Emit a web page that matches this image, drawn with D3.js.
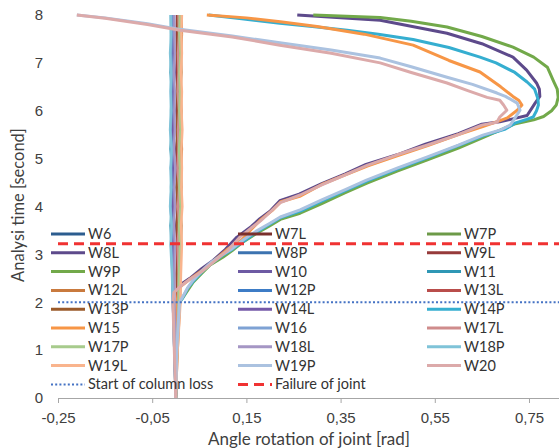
<!DOCTYPE html>
<html>
<head>
<meta charset="utf-8">
<script src="https://cdn.jsdelivr.net/npm/d3@7"></script>
<style>
  body { margin: 0; background: #fff; }
  svg { display: block; font-family: Lato, "Open Sans", sans-serif; }
  .axis text { fill: #404040; font-size: 15px; }
  .axis path, .axis line { stroke: #a6a6a6; }
  .legend text { fill: #333; font-size: 14.5px; }
  .axis-title { fill: #404040; font-size: 17px; }
</style>
</head>
<body>
<svg id="chart" width="559" height="448"></svg>
<script>
/* joint rotation vs analysis time, 24 joints + two marker lines */

const seriesNames = ["W6","W7L","W7P","W8L","W8P","W9L","W9P","W10","W11","W12L","W12P","W13L",
                     "W13P","W14L","W14P","W15","W16","W17L","W17P","W18L","W18P","W19L","W19P","W20"];
const seriesColors = ["#2c5d8f","#7a2f2c","#6c9a48","#5d4a8b","#3c73b0","#963a3a","#72a94a","#6d5aa3",
                      "#2f97b5","#c97a3e","#3d7cc6","#b94d4b","#9a5a2a","#7559a8","#35aed0","#f79646",
                      "#7ea2d4","#cf8c8c","#a7cb8c","#a596c4","#7fc3d8","#f9b48d","#abc2e0","#dcaaaa"];

const xTicks = [-0.25, -0.05, 0.15, 0.35, 0.55, 0.75];
const yTicks = [0, 1, 2, 3, 4, 5, 6, 7, 8];

// joints that stay near zero: x [rad] sampled at these times [s]
const bundleTimes = [0, 1, 2, 2.6, 3.2, 3.6, 4.0, 4.4, 4.8, 5.2, 5.6, 6.0, 6.4, 6.8, 7.2, 7.6, 8.0];
const bundleX = {
  W6:   [0,-0.003,-0.005,-0.006,-0.007,-0.009,-0.006,-0.008,-0.005,-0.009,-0.007,-0.006,-0.008,-0.006,-0.007,-0.008,-0.007],
  W7L:  [0,0.002,0.004,0.003,0.005,0.002,0.006,0.003,0.005,0.002,0.004,0.006,0.003,0.005,0.003,0.004,0.004],
  W7P:  [0,0.003,0.007,0.008,0.008,0.009,0.007,0.009,0.008,0.010,0.008,0.009,0.007,0.009,0.008,0.009,0.008],
  W8P:  [0,-0.003,-0.006,-0.007,-0.008,-0.006,-0.009,-0.007,-0.010,-0.007,-0.009,-0.008,-0.006,-0.009,-0.007,-0.008,-0.008],
  W9L:  [0,0.001,0.003,0.002,0.004,0.001,0.005,0.002,0.004,0.001,0.005,0.002,0.004,0.002,0.003,0.002,0.003],
  W10:  [0,-0.002,-0.004,-0.005,-0.004,-0.006,-0.003,-0.005,-0.002,-0.006,-0.004,-0.003,-0.005,-0.003,-0.004,-0.005,-0.004],
  W11:  [0,-0.002,-0.005,-0.006,-0.009,-0.011,-0.008,-0.010,-0.008,-0.011,-0.009,-0.010,-0.008,-0.011,-0.009,-0.010,-0.010],
  W12L: [0,0.004,0.009,0.010,0.011,0.012,0.010,0.012,0.011,0.013,0.011,0.012,0.010,0.012,0.011,0.013,0.012],
  W12P: [0,-0.002,-0.005,-0.006,-0.006,-0.008,-0.005,-0.007,-0.006,-0.008,-0.005,-0.007,-0.006,-0.008,-0.006,-0.007,-0.006],
  W13L: [0,0.002,0.004,0.005,0.003,0.006,0.004,0.006,0.003,0.005,0.003,0.006,0.004,0.005,0.004,0.006,0.005],
  W13P: [0,0.002,0.005,0.004,0.006,0.003,0.005,0.002,0.006,0.004,0.002,0.005,0.003,0.006,0.004,0.005,0.005],
  W14L: [0,-0.002,-0.004,-0.004,-0.005,-0.003,-0.006,-0.004,-0.005,-0.003,-0.006,-0.004,-0.005,-0.003,-0.005,-0.004,-0.004],
  W16:  [0,-0.003,-0.006,-0.007,-0.010,-0.008,-0.011,-0.009,-0.010,-0.008,-0.011,-0.009,-0.010,-0.008,-0.010,-0.009,-0.009],
  W17L: [0,0.002,0.005,0.006,0.004,0.007,0.005,0.007,0.004,0.006,0.005,0.007,0.004,0.006,0.005,0.007,0.006],
  W17P: [0,0.003,0.006,0.007,0.009,0.007,0.010,0.008,0.009,0.007,0.010,0.008,0.009,0.008,0.010,0.008,0.009],
  W18L: [0,-0.001,-0.003,-0.003,-0.002,-0.004,-0.002,-0.003,-0.001,-0.004,-0.002,-0.003,-0.002,-0.004,-0.002,-0.003,-0.003],
  W18P: [0,-0.003,-0.006,-0.008,-0.011,-0.009,-0.012,-0.010,-0.011,-0.009,-0.012,-0.010,-0.011,-0.010,-0.012,-0.010,-0.011],
  W19L: [0,0.004,0.010,0.011,0.013,0.011,0.014,0.012,0.013,0.012,0.014,0.012,0.013,0.011,0.013,0.012,0.013]
};

// joints that fail: [rotation rad, time s]
const curveW8L = [[0,0],[0.002,1],[0.004,2],[0.006,2.3],[0.012,2.38],[0.03,2.5],[0.055,2.7],[0.08,2.88],[0.105,3.1],
  [0.13,3.36],[0.16,3.58],[0.178,3.74],[0.2,3.9],[0.221,4.12],[0.262,4.26],[0.31,4.48],[0.36,4.68],[0.404,4.88],
  [0.47,5.08],[0.53,5.3],[0.6,5.52],[0.65,5.72],[0.688,5.77],[0.72,5.84],[0.746,5.9],[0.763,6.16],[0.773,6.3],
  [0.772,6.45],[0.766,6.58],[0.745,6.85],[0.716,7.12],[0.65,7.4],[0.576,7.62],[0.434,7.89],[0.258,8.0]];
const curveW9P = [[0,0],[0.002,1],[0.008,2],[0.014,2.08],[0.026,2.26],[0.037,2.42],[0.055,2.6],[0.073,2.78],[0.1,2.94],
  [0.12,3.08],[0.143,3.26],[0.17,3.43],[0.2,3.6],[0.222,3.73],[0.264,3.86],[0.31,4.06],[0.36,4.29],[0.406,4.49],
  [0.47,4.74],[0.533,4.97],[0.6,5.22],[0.652,5.44],[0.69,5.6],[0.719,5.72],[0.76,5.81],[0.781,5.88],[0.798,6.0],
  [0.808,6.12],[0.812,6.28],[0.81,6.45],[0.803,6.6],[0.789,6.91],[0.76,7.12],[0.716,7.33],[0.65,7.55],[0.576,7.75],
  [0.5,7.87],[0.434,7.95],[0.292,8.0]];
const curveW14P = [[0,0],[0.002,1],[0.008,2],[0.014,2.08],[0.026,2.3],[0.038,2.45],[0.056,2.64],[0.074,2.8],[0.1,2.98],
  [0.122,3.12],[0.145,3.28],[0.172,3.47],[0.201,3.64],[0.223,3.77],[0.266,3.91],[0.312,4.12],[0.362,4.34],[0.408,4.54],
  [0.472,4.79],[0.535,5.02],[0.6,5.27],[0.654,5.48],[0.7,5.62],[0.72,5.74],[0.745,5.82],[0.759,5.87],[0.766,6.0],
  [0.77,6.12],[0.769,6.25],[0.762,6.45],[0.746,6.6],[0.72,6.8],[0.68,7.0],[0.646,7.12],[0.58,7.32],[0.504,7.49],
  [0.43,7.6],[0.364,7.68],[0.29,7.76],[0.221,7.83],[0.14,7.92],[0.07,8.0]];
const curveW15 = [[0,0],[0.001,1],[0.003,2],[0.006,2.28],[0.014,2.36],[0.035,2.52],[0.058,2.68],[0.085,2.9],[0.109,3.1],
  [0.14,3.3],[0.16,3.52],[0.18,3.72],[0.205,3.92],[0.223,4.1],[0.265,4.22],[0.31,4.46],[0.36,4.66],[0.408,4.85],
  [0.47,5.06],[0.535,5.27],[0.6,5.5],[0.655,5.68],[0.69,5.8],[0.704,5.85],[0.725,6.01],[0.735,6.12],[0.728,6.22],
  [0.716,6.3],[0.69,6.5],[0.646,6.81],[0.58,7.05],[0.504,7.37],[0.4,7.6],[0.3,7.76],[0.222,7.86],[0.15,7.94],[0.066,8.0]];
const curveW19P = [[0,0],[0.002,1],[0.008,2],[0.014,2.1],[0.025,2.3],[0.037,2.46],[0.055,2.65],[0.073,2.82],[0.1,3.0],
  [0.12,3.12],[0.143,3.3],[0.17,3.48],[0.2,3.65],[0.222,3.78],[0.264,3.93],[0.31,4.14],[0.36,4.35],[0.405,4.55],
  [0.47,4.8],[0.533,5.03],[0.6,5.28],[0.652,5.49],[0.69,5.6],[0.71,5.7],[0.717,5.8],[0.731,6.01],[0.725,6.16],
  [0.7,6.3],[0.682,6.37],[0.63,6.55],[0.576,6.7],[0.5,6.92],[0.434,7.1],[0.33,7.27],[0.221,7.42],[0.12,7.56],
  [0.009,7.7],[-0.06,7.82],[-0.15,7.94],[-0.21,8.0]];
const curveW20 = [[0,0],[-0.003,1],[-0.006,2],[-0.004,2.2],[0.008,2.32],[0.03,2.48],[0.058,2.66],[0.085,2.88],[0.11,3.08],
  [0.136,3.36],[0.16,3.55],[0.18,3.7],[0.2,3.88],[0.222,4.08],[0.264,4.24],[0.31,4.45],[0.36,4.66],[0.406,4.86],
  [0.47,5.08],[0.533,5.28],[0.6,5.5],[0.65,5.7],[0.682,5.76],[0.688,5.87],[0.703,6.01],[0.696,6.12],[0.688,6.22],
  [0.661,6.28],[0.62,6.42],[0.576,6.58],[0.5,6.8],[0.434,7.0],[0.33,7.2],[0.221,7.37],[0.12,7.54],[0.009,7.68],
  [-0.06,7.8],[-0.15,7.93],[-0.21,8.0]];

const startLossTime = 2.0;
const failureTime = 3.22;

/* ---------- scales + axes ---------- */
const svg = d3.select("#chart");
const xScale = d3.scaleLinear().domain([-0.25, 0.815]).range([58, 559.6]);
const yScale = d3.scaleLinear().domain([0, 8]).range([398, 15]);

const fmt = d3.formatLocale({ decimal: ",", thousands: ".", grouping: [3], currency: ["", ""], minus: "-" }).format(".2f");

svg.append("g").attr("class", "axis x-axis")
  .attr("transform", `translate(0,${yScale(0)})`)
  .call(d3.axisBottom(xScale).tickValues(xTicks).tickFormat(fmt).tickSize(5).tickSizeOuter(0).tickPadding(9));

const yAxisG = svg.append("g").attr("class", "axis y-axis")
  .attr("transform", `translate(${xScale(-0.25)},0)`)
  .call(d3.axisLeft(yScale).tickValues(yTicks).tickFormat(d3.format("d")).tickSize(0).tickPadding(15));
yAxisG.select(".domain").remove();

svg.append("text").attr("class", "axis-title")
  .attr("x", 309).attr("y", 445).attr("text-anchor", "middle")
  .text("Angle rotation of joint [rad]");
svg.append("text").attr("class", "axis-title")
  .attr("transform", "rotate(-90)").attr("x", -205).attr("y", 24)
  .attr("text-anchor", "middle").style("font-size", "16.5px").text("Analysi time [second]");

/* ---------- series ---------- */
const curves = { W8L: curveW8L, W9P: curveW9P, W14P: curveW14P, W15: curveW15, W19P: curveW19P, W20: curveW20 };

const seriesData = seriesNames.map((name, i) => {
  const pts = curves[name] || bundleTimes.map((t, k) => [bundleX[name][k], t]);
  return { name, color: seriesColors[i], pts, big: !!curves[name] };
});

const line = d3.line().x(d => xScale(d[0])).y(d => yScale(d[1]));

svg.append("g").selectAll("path")
  .data(seriesData)
  .join("path")
  .attr("d", d => line(d.pts))
  .attr("fill", "none")
  .attr("stroke", d => d.color)
  .attr("stroke-width", d => d.big ? 3 : 2.5)
  .attr("stroke-linejoin", "round");

const xDom = xScale.domain();
svg.append("path")
  .attr("d", line([[xDom[0], startLossTime], [xDom[1], startLossTime]]))
  .attr("stroke", "#4472c4").attr("stroke-width", 2).attr("stroke-dasharray", "2,2.2").attr("fill", "none");
svg.append("path")
  .attr("d", line([[xDom[0], failureTime], [xDom[1], failureTime]]))
  .attr("stroke", "#f03232").attr("stroke-width", 3).attr("stroke-dasharray", "10,6").attr("fill", "none");

/* ---------- legend (3 columns) ---------- */
const colX = [51, 238, 427];
const rowY0 = 234, rowH = 18.8, sampleLen = 34;

const legendItems = seriesData.map(d => ({ name: d.name, color: d.color, dash: null, w: 3 }))
  .concat([
    { name: "Start of column loss", color: "#4472c4", dash: "2,2.2", w: 2 },
    { name: "Failure of joint", color: "#f03232", dash: "10,6", w: 3 }
  ]);

const leg = svg.append("g").attr("class", "legend")
  .selectAll("g").data(legendItems).join("g")
  .attr("transform", (d, i) => `translate(${colX[i % 3]},${rowY0 + Math.floor(i / 3) * rowH})`);

leg.append("line")
  .attr("x1", 0).attr("x2", sampleLen).attr("y1", 0).attr("y2", 0)
  .attr("stroke", d => d.color).attr("stroke-width", d => d.w)
  .attr("stroke-dasharray", d => d.dash);
leg.append("text")
  .attr("x", sampleLen + 3).attr("y", 0).attr("dy", "0.35em")
  .text(d => d.name);
</script>
</body>
</html>
